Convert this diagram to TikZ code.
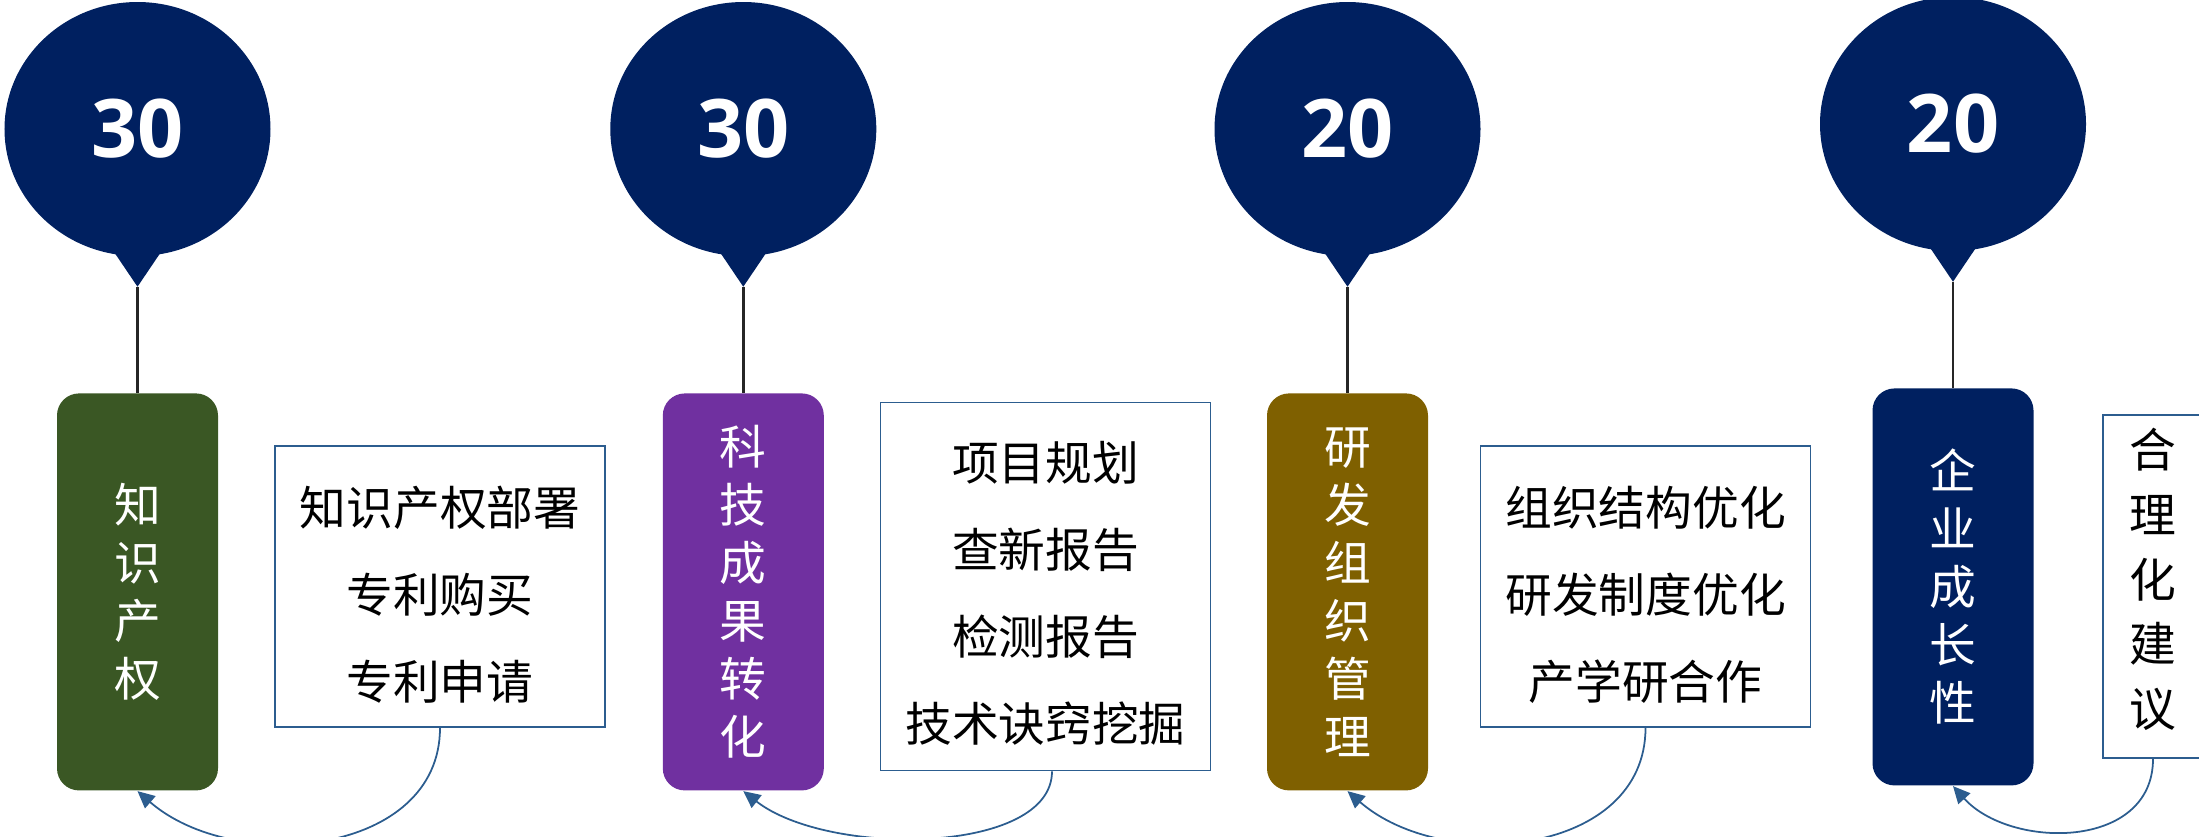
\documentclass[tikz,border=0pt]{standalone}
\usepackage{fontspec}
\newfontfamily\cjk{Noto Sans CJK SC}
\newfontfamily\numfont{Open Sans}
\usetikzlibrary{arrows.meta,shapes.geometric,positioning}

\definecolor{navy}{HTML}{002060}
\definecolor{ipgreen}{HTML}{3A5724}
\definecolor{techpurple}{HTML}{7030A0}
\definecolor{rdolive}{HTML}{7F6000}
\definecolor{edgeblue}{HTML}{2C5D8F}
\definecolor{stemgray}{HTML}{262626}

\begin{document}
\begin{tikzpicture}[>={Triangle[length=1.7mm,width=1.6mm]},
    score/.style={ellipse,fill=navy,minimum width=2.66cm,minimum height=2.54cm,inner sep=0pt,
                  text=white,font=\numfont\bfseries\fontsize{23}{23}\selectfont},
    topic/.style={rounded corners=2.2mm,minimum width=1.61cm,minimum height=3.97cm,inner sep=0pt,
                  text=white,align=center,font=\cjk\fontsize{13.3}{16.5}\selectfont},
    items/.style={draw=edgeblue,line width=0.5pt,fill=white},
    itemtext/.style={inner sep=0pt,align=center,font=\cjk\fontsize{13.3}{24.75}\selectfont},
    stem/.style={color=stemgray,line width=0.8pt},
    back/.style={->,color=edgeblue,line width=0.5pt}]

            \useasboundingbox (0,0) rectangle (21.99,-8.36);

            % scores
            \node[score] (s1) at (1.375,-1.29) {30};

            \node[score] (s2) at (7.433,-1.29) {30};

            \node[score] (s3) at (13.475,-1.29) {20};

            \node[score] (s4) at (19.53,-1.24) {20};

            \fill[navy] ([xshift=-2.5mm,yshift=0.7mm]s1.south) -- ([yshift=-3mm]s1.south) coordinate (t1) -- ([xshift=2.5mm,yshift=0.7mm]s1.south) -- cycle;
            \fill[navy] ([xshift=-2.5mm,yshift=0.7mm]s2.south) -- ([yshift=-3mm]s2.south) coordinate (t2) -- ([xshift=2.5mm,yshift=0.7mm]s2.south) -- cycle;
            \fill[navy] ([xshift=-2.5mm,yshift=0.7mm]s3.south) -- ([yshift=-3mm]s3.south) coordinate (t3) -- ([xshift=2.5mm,yshift=0.7mm]s3.south) -- cycle;
            \fill[navy] ([xshift=-2.5mm,yshift=0.7mm]s4.south) -- ([yshift=-3mm]s4.south) coordinate (t4) -- ([xshift=2.5mm,yshift=0.7mm]s4.south) -- cycle;

            % topics
            \node[topic,fill=ipgreen] (ip) [below=1.36cm of s1] {知\\识\\产\\权};

            \node[topic,fill=techpurple] (tech) [below=1.36cm of s2] {科\\技\\成\\果\\转\\化};

            \node[topic,fill=rdolive] (org) [below=1.36cm of s3] {研\\发\\组\\织\\管\\理};

            \node[topic,fill=navy] (growth) [below=1.36cm of s4] {企\\业\\成\\长\\性};

            % lists
            \node[items,minimum width=3.3cm,minimum height=2.81cm,
                  label={[itemtext,yshift=-0.8mm]center:知识产权部署\\专利购买\\专利申请}] (ip-list) at (4.40,-5.865) {};

            \node[items,minimum width=3.3cm,minimum height=3.68cm,
                  label={[itemtext,yshift=-0.7mm]center:项目规划\\查新报告\\检测报告\\技术诀窍挖掘}] (tech-list) at (10.455,-5.865) {};

            \node[items,minimum width=3.3cm,minimum height=2.81cm,
                  label={[itemtext,yshift=-0.8mm]center:组织结构优化\\研发制度优化\\产学研合作}] (org-list) at (16.455,-5.865) {};

            \node[items,minimum width=1cm,minimum height=3.43cm,
                  label={[itemtext,yshift=0.7mm,font=\cjk\fontsize{13.3}{18.4}\selectfont]center:合\\理\\化\\建\\议}] (growth-list) at (21.53,-5.865) {};

            \path[stem] (t1) edge (ip)
                        (t2) edge (tech)
                        (t3) edge (org)
                        (t4) edge (growth);

            \path[back] (ip-list) edge [out=-90,in=-41,looseness=1.06] (ip.south)
                        ([xshift=0.65mm]tech-list.south) edge [out=-90,in=-38,out looseness=0.69,in looseness=0.89] (tech.south)
                        (org-list) edge [out=-90,in=-41,looseness=1.07] (org.south)
                        (growth-list) edge [out=-90,in=-48,out looseness=1.16,in looseness=1.08] (growth.south);

        \end{tikzpicture}
\end{document}
